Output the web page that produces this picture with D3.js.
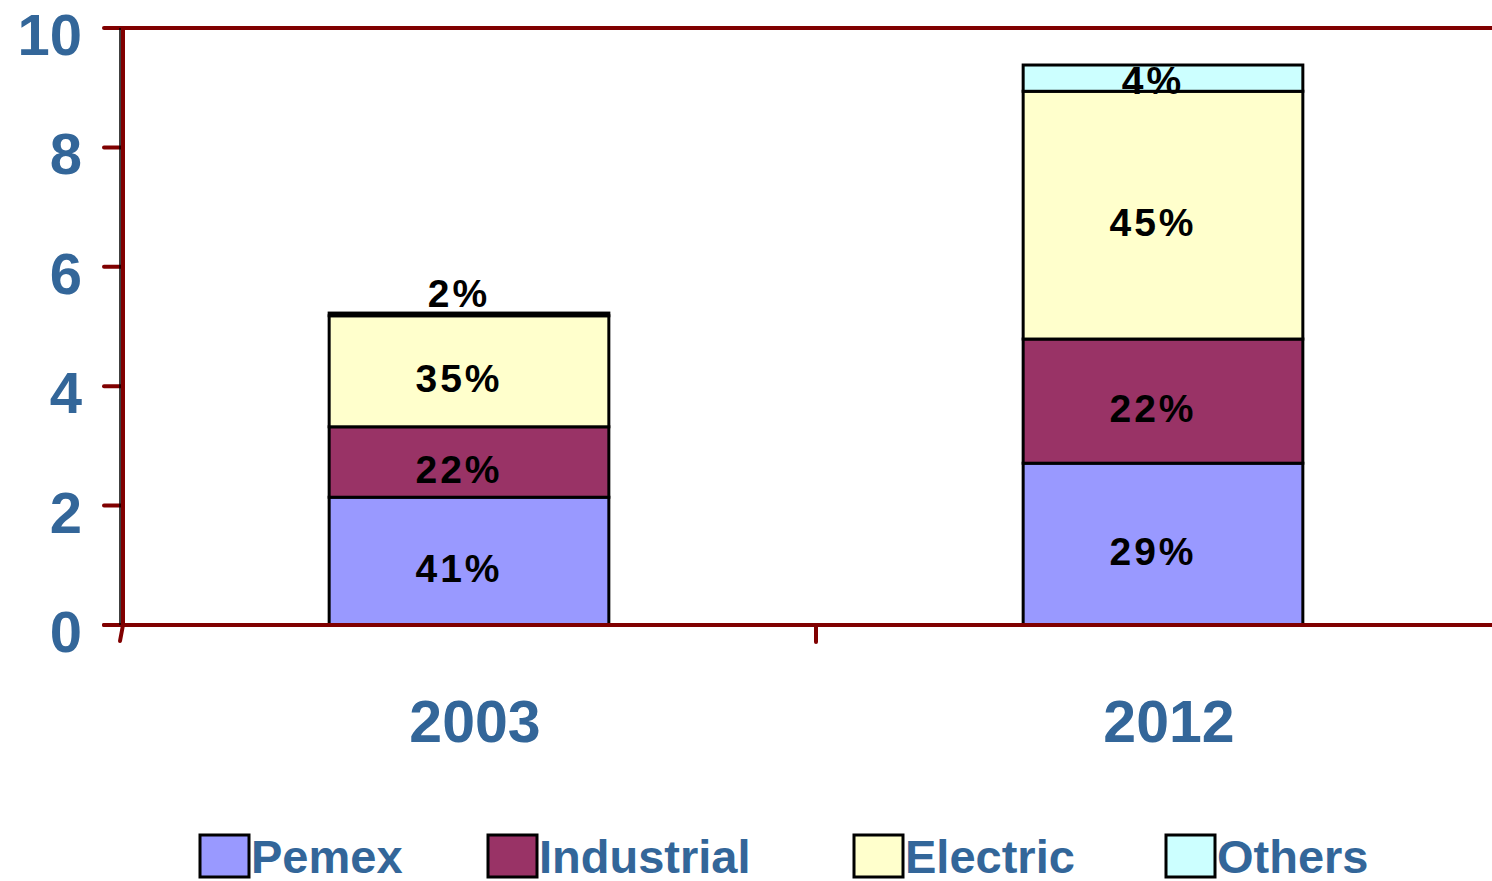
<!DOCTYPE html>
<html>
<head>
<meta charset="utf-8">
<script src="https://cdn.jsdelivr.net/npm/d3@7"></script>
<style>
  body { margin: 0; background: #fff; }
  svg { display: block; font-family: "Liberation Sans", Arial, sans-serif; }
</style>
</head>
<body>
<svg id="chart"></svg>
<script>
// chart data
const years = ["2003", "2012"];
const sectors = ["Pemex", "Industrial", "Electric", "Others"];
const pemex = [2.14, 2.71];
const industrial = [1.18, 2.08];
const electric = [1.86, 4.15];
const others = [0.045, 0.44];
const shareLabels = {
  Pemex: ["41%", "29%"],
  Industrial: ["22%", "22%"],
  Electric: ["35%", "45%"],
  Others: ["2%", "4%"]
};
const yTicks = [0, 2, 4, 6, 8, 10];

const colors = {Pemex: "#9999ff", Industrial: "#993366", Electric: "#ffffcc", Others: "#ccffff"};
const axisRed = "#800000", textBlue = "#336699";

const width = 1492, height = 881;
const svg = d3.select("#chart").attr("width", width).attr("height", height);

const rows = years.map((yr, i) => ({
  year: yr, Pemex: pemex[i], Industrial: industrial[i], Electric: electric[i], Others: others[i]
}));
const series = d3.stack().keys(sectors)(rows);

const x = d3.scaleBand().domain(years).range([122, 1510]).paddingInner(0.597).paddingOuter(0.2985);
const y = d3.scaleLinear().domain([0, 10]).range([625, 28]);

// bars
const layer = svg.append("g").selectAll("g").data(series).join("g")
    .attr("fill", d => colors[d.key]);
layer.selectAll("rect").data(d => d).join("rect")
    .attr("x", d => x(d.data.year))
    .attr("y", d => y(d[1]))
    .attr("width", x.bandwidth())
    .attr("height", d => y(d[0]) - y(d[1]))
    .attr("stroke", "#000")
    .attr("stroke-width", 3);

// segment labels
series.forEach(s => {
  s.forEach((d, i) => {
    let cy = (y(d[0]) + y(d[1])) / 2 + 21;
    if (s.key === "Others") cy = i === 0 ? y(d[1]) - 6 : (y(d[0]) + y(d[1])) / 2 + 16;
    svg.append("text")
      .attr("x", x(d.data.year) + x.bandwidth() / 2 - 10)
      .attr("y", cy)
      .attr("text-anchor", "middle")
      .attr("font-size", 39)
      .attr("font-weight", "bold")
      .attr("letter-spacing", 3)
      .attr("fill", "#000")
      .text(shareLabels[s.key][i]);
  });
});

// axes frame
const axisG = svg.append("g").attr("stroke", axisRed).attr("stroke-width", 4).attr("stroke-linecap", "round");
svg.append("line").attr("x1", 120).attr("x2", 120).attr("y1", y(10)).attr("y2", y(0))
    .attr("stroke", "#000").attr("stroke-width", 1.5);
axisG.append("line").attr("x1", 123).attr("x2", 123).attr("y1", y(10)).attr("y2", y(0));
axisG.append("line").attr("x1", 123).attr("x2", 120).attr("y1", y(0)).attr("y2", 641);
axisG.append("line").attr("x1", 120).attr("x2", width + 5).attr("y1", y(10)).attr("y2", y(10));
axisG.append("line").attr("x1", 104).attr("x2", width + 5).attr("y1", y(0)).attr("y2", y(0));
axisG.selectAll("line.tick").data(yTicks).join("line").attr("class", "tick")
    .attr("x1", 104).attr("x2", 122)
    .attr("y1", d => y(d)).attr("y2", d => y(d));
// category separator tick
const sep = x(years[0]) + x.bandwidth() + x.step() * x.paddingInner() / 2;
axisG.append("line").attr("x1", sep).attr("x2", sep).attr("y1", y(0)).attr("y2", 642);

// y tick labels
svg.append("g").selectAll("text").data(yTicks).join("text")
    .attr("x", 82)
    .attr("y", d => y(d) + 27)
    .attr("text-anchor", "end")
    .attr("font-size", 58)
    .attr("font-weight", "bold")
    .attr("fill", textBlue)
    .text(d => d);

// category labels
svg.append("g").selectAll("text").data(years).join("text")
    .attr("x", d => x(d) + x.bandwidth() / 2 + 6)
    .attr("y", 742)
    .attr("text-anchor", "middle")
    .attr("font-size", 59)
    .attr("font-weight", "bold")
    .attr("fill", textBlue)
    .text(d => d);

// legend
const legendX = [200, 488, 854, 1166];
const legend = svg.append("g").selectAll("g").data(sectors).join("g")
    .attr("transform", (d, i) => `translate(${legendX[i]},835)`);
legend.append("rect")
    .attr("width", 49).attr("height", 42)
    .attr("fill", d => colors[d])
    .attr("stroke", "#000").attr("stroke-width", 3);
legend.append("text")
    .attr("x", 51).attr("y", 38)
    .attr("font-size", 47)
    .attr("font-weight", "bold")
    .attr("fill", textBlue)
    .text(d => d);
</script>
</body>
</html>
